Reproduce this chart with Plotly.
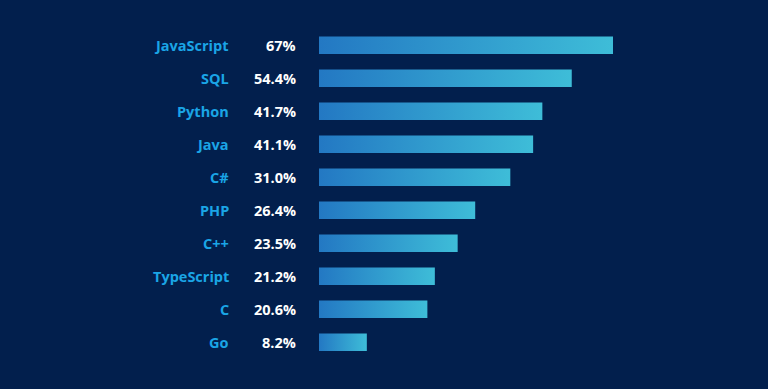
import plotly.graph_objects as go

languages = ["JavaScript", "SQL", "Python", "Java", "C#", "PHP", "C++", "TypeScript", "C", "Go"]
share_labels = ["67%", "54.4%", "41.7%", "41.1%", "31.0%", "26.4%", "23.5%", "21.2%", "20.6%", "8.2%"]
# bar lengths as drawn in the picture (in % units, JavaScript = 67)
bar_values = [67.0, 57.6, 50.9, 48.8, 43.6, 35.6, 31.6, 26.4, 24.7, 10.9]

BG = "#021f4d"
W, H = 768, 389
px_per_unit = 4.388
x0_px = 319
pitch = 33.0
first_px = 45.3
half = 0.265

xmin = -x0_px / px_per_unit
xmax = (W - x0_px) / px_per_unit
ymin = -first_px / pitch
ymax = ymin + H / pitch

fig = go.Figure()
for i, (lang, v) in enumerate(zip(languages, bar_values)):
    fig.add_trace(go.Scatter(
        x=[0, v, v, 0, 0],
        y=[i - half, i - half, i + half, i + half, i - half],
        mode="lines", fill="toself",
        line=dict(width=0, color="rgba(0,0,0,0)"),
        fillcolor="#2e9bd0",
        fillgradient=dict(type="horizontal",
                          colorscale=[[0, "#2378c3"], [1, "#3ebdd8"]]),
        hoverinfo="skip", showlegend=False,
    ))

name_x = (231 - x0_px) / px_per_unit
pct_x = (298 - x0_px) / px_per_unit
for i, (lang, lab) in enumerate(zip(languages, share_labels)):
    fig.add_annotation(x=name_x, y=i, text=f"<b>{lang}</b>", showarrow=False,
                       xanchor="right", yanchor="middle",
                       font=dict(family="Open Sans", size=14.5, color="#1aa5e6"))
    fig.add_annotation(x=pct_x, y=i, text=f"<b>{lab}</b>", showarrow=False,
                       xanchor="right", yanchor="middle",
                       font=dict(family="Open Sans", size=14.5, color="#ffffff"))

fig.update_layout(
    width=W, height=H,
    margin=dict(l=0, r=0, t=0, b=0),
    paper_bgcolor=BG, plot_bgcolor=BG,
    xaxis=dict(range=[xmin, xmax], visible=False, fixedrange=True),
    yaxis=dict(range=[ymax, ymin], visible=False, fixedrange=True),
    showlegend=False,
)
fig.write_html(
    "out.html",
    config={"displayModeBar": False},
    post_script="document.body.style.margin='0';document.body.style.background='%s';" % BG,
)
